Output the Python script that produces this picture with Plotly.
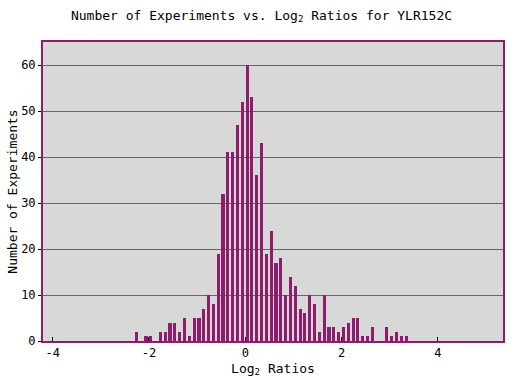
import plotly.graph_objects as go

# Bin left edges (log2 ratio) and counts
bin_starts = [-2.3, -2.2, -2.1, -2.0, -1.9, -1.8, -1.7, -1.6, -1.5, -1.4, -1.3, -1.2,
              -1.1, -1.0, -0.9, -0.8, -0.7, -0.6, -0.5, -0.4, -0.3, -0.2, -0.1,
              0.0, 0.1, 0.2, 0.3, 0.4, 0.5, 0.6, 0.7, 0.8, 0.9, 1.0, 1.1, 1.2,
              1.3, 1.4, 1.5, 1.6, 1.7, 1.8, 1.9, 2.0, 2.1, 2.2, 2.3, 2.4, 2.5,
              2.6, 2.7, 2.8, 2.9, 3.0, 3.1, 3.2, 3.3]
counts = [2, 0, 1, 1, 0, 2, 2, 4, 4, 2, 5, 1,
          5, 5, 7, 10, 8, 19, 32, 41, 41, 47, 52,
          60, 53, 36, 43, 19, 24, 17, 18, 10, 14, 12, 7, 6,
          10, 8, 2, 10, 3, 3, 2, 3, 4, 5, 5, 1, 1,
          3, 0, 0, 3, 1, 2, 1, 1]
x_ticks = [-4, -2, 0, 2, 4]
y_ticks = [0, 10, 20, 30, 40, 50, 60]

PURPLE = "#8e1c6c"
FONT = "DejaVu Sans Mono"

fig = go.Figure()
fig.add_trace(go.Bar(
    x=bin_starts, y=counts,
    width=0.065, offset=0.005,
    marker=dict(color=PURPLE, line=dict(width=0)),
    hoverinfo="x+y",
))

fig.update_layout(
    width=523, height=380,
    margin=dict(l=43, r=20, t=42, b=39),
    paper_bgcolor="white",
    plot_bgcolor="#d8d8d8",
    showlegend=False,
    bargap=0,
    font=dict(family=FONT, size=13, color="black"),
    title=dict(
        text="Number of Experiments vs. Log<sub>2</sub> Ratios for YLR152C",
        x=0.5, xanchor="center", y=1 - 15 / 380, yanchor="middle",
        font=dict(family=FONT, size=13, color="black"),
    ),
    xaxis=dict(
        range=[-4.2, 5.35],
        automargin=False,
        tickvals=x_ticks,
        ticktext=[str(v) for v in x_ticks],
        ticks="inside", ticklen=4, tickcolor="black", tickwidth=1,
        showgrid=False, zeroline=False,
        showline=True, linecolor=PURPLE, linewidth=2, mirror=True,
        tickfont=dict(family=FONT, size=12),
        title=dict(text="Log<sub>2</sub> Ratios", standoff=4,
                   font=dict(family=FONT, size=13)),
    ),
    yaxis=dict(
        range=[0, 65],
        automargin=False,
        tickvals=y_ticks,
        ticks="outside", ticklen=3, tickcolor="black", tickwidth=1,
        showgrid=True, gridcolor="#666666", gridwidth=1,
        zeroline=False,
        showline=True, linecolor=PURPLE, linewidth=2, mirror=True,
        tickfont=dict(family=FONT, size=12),
        title=dict(text="Number of Experiments", standoff=1,
                   font=dict(family=FONT, size=13)),
    ),
)

fig.write_html(
    "out.html",
    config={"displayModeBar": False},
    post_script="document.body.style.margin='0';document.body.style.padding='0';",
)
